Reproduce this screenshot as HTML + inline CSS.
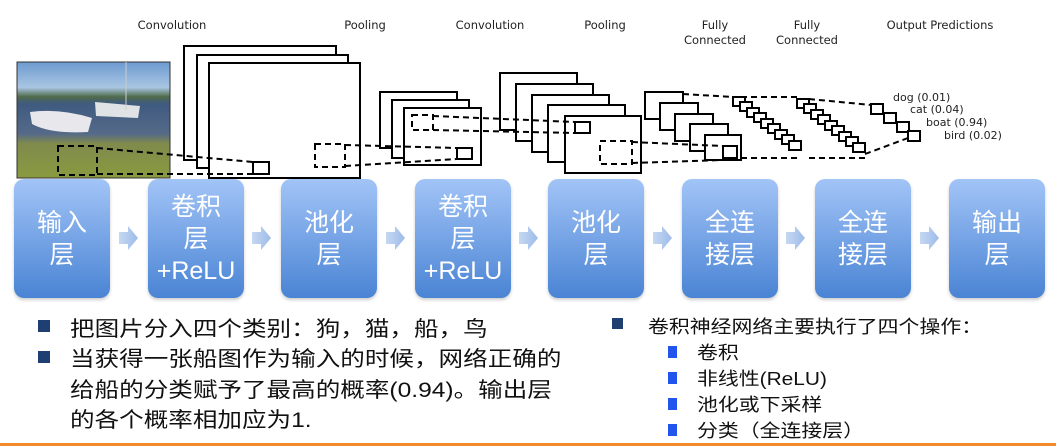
<!DOCTYPE html>
<html><head><meta charset="utf-8"><style>
body{margin:0;width:1056px;height:446px;background:#fff;overflow:hidden;position:relative;font-family:"Liberation Sans","Noto Sans CJK SC",sans-serif}
.box{position:absolute;top:179px;width:96px;height:119px;border-radius:10px;background:linear-gradient(#a2c4f7,#4a84d4);color:#fff;font-size:25px;text-align:center;display:flex;flex-direction:column;justify-content:center;line-height:32px;box-shadow:0 2px 3px rgba(0,0,0,.2)}
.t{position:absolute;font-size:21px;color:#111;white-space:nowrap;transform:scaleX(1.17);transform-origin:0 0}
.b{position:absolute;width:12px;height:12px;background:#1f3f73}
.sb{position:absolute;width:9px;height:12px;background:#2255ee}
.s{position:absolute;font-size:18px;color:#111;white-space:nowrap;transform:scaleX(1.16);transform-origin:0 0}
</style></head><body>
<svg width="1056" height="180" style="position:absolute;left:0;top:0" font-family="DejaVu Sans, sans-serif">
<defs><linearGradient id="ph" x1="0" y1="0" x2="0" y2="1">
<stop offset="0" stop-color="#6d9ad0"/><stop offset=".22" stop-color="#a9c6e2"/><stop offset=".3" stop-color="#4f6b4a"/><stop offset=".36" stop-color="#3f5a80"/><stop offset=".62" stop-color="#556a88"/><stop offset=".7" stop-color="#7f8a4c"/><stop offset="1" stop-color="#8a9a40"/></linearGradient></defs>
<g font-size="11.5" fill="#222" text-anchor="middle">
<text x="172" y="29">Convolution</text><text x="365" y="29">Pooling</text><text x="490" y="29">Convolution</text><text x="605" y="29">Pooling</text>
<text x="715" y="29">Fully</text><text x="715" y="44">Connected</text><text x="807" y="29">Fully</text><text x="807" y="44">Connected</text><text x="940" y="29">Output Predictions</text></g>
<rect x="17" y="62" width="153" height="116" fill="url(#ph)" stroke="#333"/>
<path d="M30 112 Q60 108 92 118 L88 132 Q50 134 32 124Z" fill="#e8e8ec"/><path d="M95 102 L140 106 L138 118 L96 116Z" fill="#dfe3e6"/><line x1="126" y1="62" x2="126" y2="110" stroke="#ccc"/>
<g fill="#fff" stroke="#000" stroke-width="2">
<rect x="184" y="46" width="152" height="114"/><rect x="197" y="55" width="151" height="113"/><rect x="209" y="63" width="151" height="115"/>
<rect x="253" y="162" width="16" height="12"/>
<rect x="380" y="92" width="77" height="56"/><rect x="392" y="100" width="77" height="58"/><rect x="404" y="108" width="77" height="57"/>
<rect x="457" y="148" width="15" height="11"/>
<rect x="500" y="73" width="77" height="57"/><rect x="516" y="84" width="77" height="57"/><rect x="532" y="95" width="77" height="57"/><rect x="548" y="105" width="77" height="57"/><rect x="565" y="116" width="76" height="57"/>
<rect x="575" y="122" width="15" height="11"/>
<rect x="645" y="92" width="38" height="27"/><rect x="660" y="103" width="38" height="27"/><rect x="675" y="114" width="38" height="27"/><rect x="690" y="124" width="38" height="27"/><rect x="705" y="135" width="36" height="25"/>
<rect x="723" y="146" width="14" height="12"/>
<g id="fc"><rect x="733" y="97" width="12" height="9"/><rect x="740" y="102" width="12" height="9"/><rect x="747" y="108" width="12" height="9"/><rect x="754" y="113" width="12" height="9"/><rect x="761" y="119" width="12" height="9"/><rect x="768" y="124" width="12" height="9"/><rect x="775" y="130" width="12" height="9"/><rect x="782" y="135" width="12" height="9"/><rect x="789" y="141" width="12" height="9"/></g>
<use href="#fc" x="64" y="2"/>
<rect x="871" y="104" width="12" height="10"/><rect x="884" y="113" width="12" height="10"/><rect x="897" y="122" width="12" height="10"/><rect x="908" y="131" width="12" height="10"/>
</g>
<g fill="none" stroke="#000" stroke-width="2" stroke-dasharray="6,4">
<rect x="58" y="146" width="39" height="29"/><line x1="97" y1="148" x2="253" y2="162"/><line x1="97" y1="174" x2="253" y2="174"/>
<rect x="315" y="144" width="30" height="23"/><line x1="345" y1="145" x2="457" y2="148"/><line x1="345" y1="166" x2="457" y2="159"/>
<rect x="412" y="115" width="21" height="15"/><line x1="433" y1="116" x2="575" y2="122"/><line x1="433" y1="130" x2="575" y2="133"/>
<rect x="600" y="141" width="32" height="23"/><line x1="632" y1="142" x2="723" y2="146"/><line x1="632" y1="163" x2="723" y2="160"/>
<line x1="683" y1="94" x2="733" y2="97"/><line x1="741" y1="158" x2="801" y2="158"/>
<line x1="797" y1="97" x2="745" y2="97"/><line x1="865" y1="158" x2="805" y2="158"/>
<line x1="809" y1="99" x2="871" y2="105"/><line x1="865" y1="154" x2="908" y2="138"/>
</g>
<g font-size="11" fill="#222"><text x="893" y="101">dog (0.01)</text><text x="910" y="113">cat (0.04)</text><text x="926" y="126">boat (0.94)</text><text x="944" y="139">bird (0.02)</text></g>
</svg>
<div class="box" style="left:14px">输入<br>层</div>
<div class="box" style="left:148px">卷积<br>层<br>+ReLU</div>
<div class="box" style="left:281px">池化<br>层</div>
<div class="box" style="left:415px">卷积<br>层<br>+ReLU</div>
<div class="box" style="left:548px">池化<br>层</div>
<div class="box" style="left:682px">全连<br>接层</div>
<div class="box" style="left:815px">全连<br>接层</div>
<div class="box" style="left:949px">输出<br>层</div>
<svg width="1056" height="40" style="position:absolute;left:0;top:222px">
<defs><linearGradient id="ag" x1="0" x2="1"><stop offset="0" stop-color="#c5d8f3"/><stop offset="1" stop-color="#9dbbe8"/></linearGradient></defs>
<g fill="url(#ag)">
<path id="a" d="M119 10 h9 v-6 l10 12 l-10 12 v-6 h-9z"/>
<use href="#a" x="133"/><use href="#a" x="267"/><use href="#a" x="400"/><use href="#a" x="534"/><use href="#a" x="667"/><use href="#a" x="801"/>
</g></svg>
<div class="b" style="left:38px;top:320px"></div>
<div class="t" style="left:70px;top:313px">把图片分入四个类别：狗，猫，船，鸟</div>
<div class="b" style="left:38px;top:351px"></div>
<div class="t" style="left:70px;top:343px">当获得一张船图作为输入的时候，网络正确的</div>
<div class="t" style="left:70px;top:374px">给船的分类赋予了最高的概率(0.94)。输出层</div>
<div class="t" style="left:70px;top:404px">的各个概率相加应为1.</div>
<div class="b" style="left:612px;top:318px;width:11px;height:11px"></div>
<div class="s" style="left:648px;top:313px">卷积神经网络主要执行了四个操作：</div>
<div class="sb" style="left:668px;top:346px"></div><div class="s" style="left:697px;top:339px">卷积</div>
<div class="sb" style="left:668px;top:372px"></div><div class="s" style="left:697px;top:365px">非线性(ReLU)</div>
<div class="sb" style="left:668px;top:398px"></div><div class="s" style="left:697px;top:391px">池化或下采样</div>
<div class="sb" style="left:668px;top:424px"></div><div class="s" style="left:697px;top:417px">分类（全连接层）</div>
<div style="position:absolute;left:0;top:443px;width:1056px;height:3px;background:#f08a2a"></div>
</body></html>
